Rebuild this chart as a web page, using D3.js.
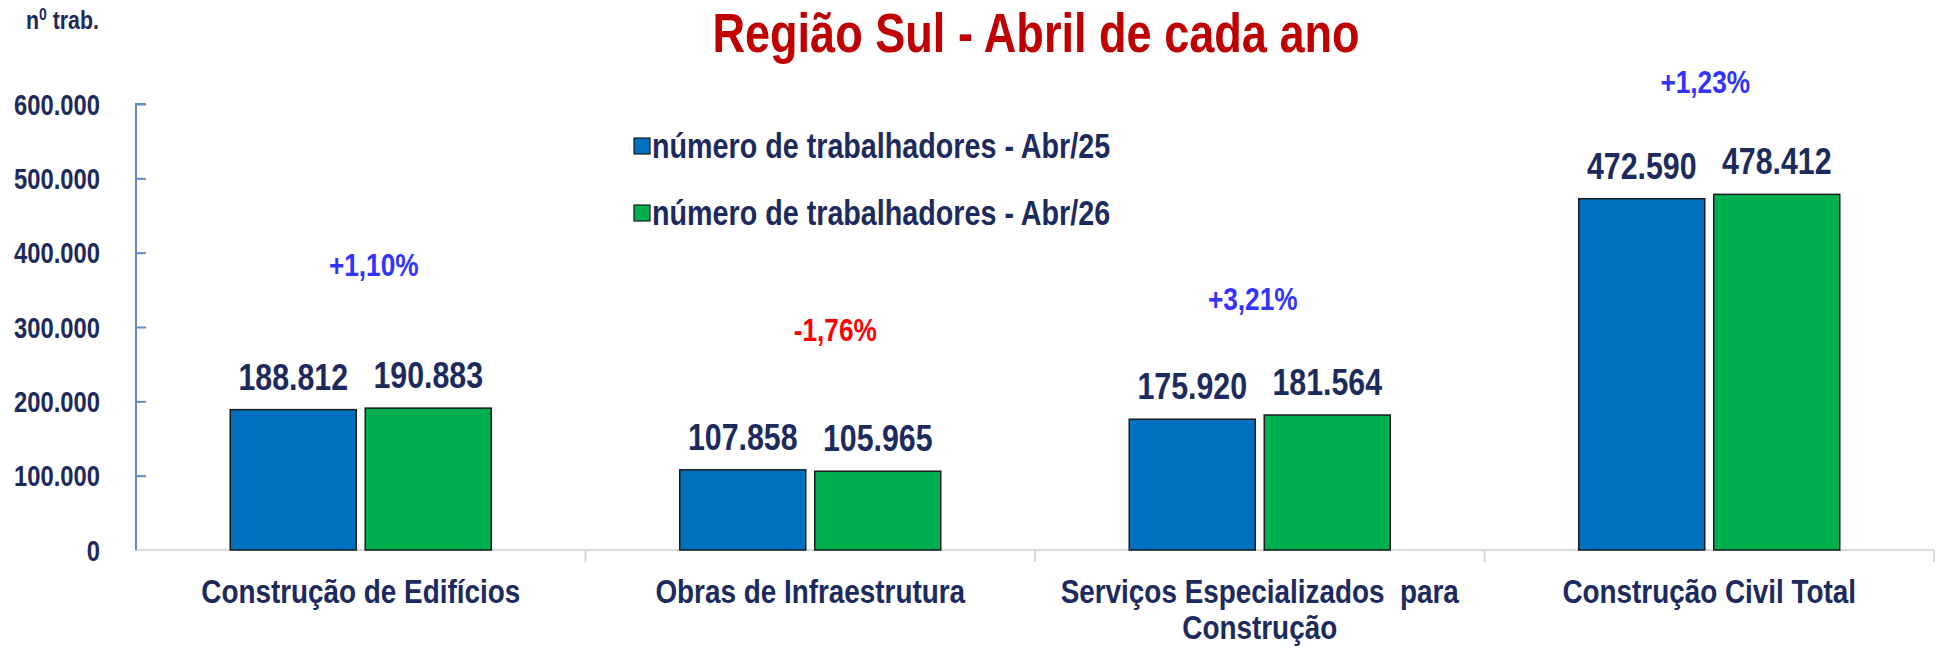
<!DOCTYPE html>
<html>
<head>
<meta charset="utf-8">
<script src="https://cdn.jsdelivr.net/npm/d3@7"></script>
<style>
  html, body { margin: 0; padding: 0; background: #ffffff; }
  svg { display: block; }
</style>
</head>
<body>
<svg id="chart" width="1936" height="648"></svg>
<script>
// ---------- DATA ----------
const categories = [
  ["Construção de Edifícios"],
  ["Obras de Infraestrutura"],
  ["Serviços Especializados  para", "Construção"],
  ["Construção Civil Total"]
];
const seriesNames = ["número de trabalhadores - Abr/25", "número de trabalhadores - Abr/26"];
const values2025 = [188812, 107858, 175920, 472590];
const values2026 = [190883, 105965, 181564, 478412];
const valueLabels2025 = ["188.812", "107.858", "175.920", "472.590"];
const valueLabels2026 = ["190.883", "105.965", "181.564", "478.412"];
const pctLabels = ["+1,10%", "-1,76%", "+3,21%", "+1,23%"];
const yTicks = [0, 100000, 200000, 300000, 400000, 500000, 600000];
const yTickLabels = ["0", "100.000", "200.000", "300.000", "400.000", "500.000", "600.000"];
const titleText = "Região Sul - Abril de cada ano";
const yUnitText = "trab.";

// ---------- STYLE / LAYOUT ----------
const W = 1936, H = 648;
const colors = ["#0070c0", "#00b050"];
const navy = "#1c2a5e";
const svg = d3.select("#chart");

// font detection: prefer a narrow bold font; else compress regular bold
function measure(family) {
  const t = svg.append("text").attr("font-family", family).attr("font-size", 40)
    .attr("font-weight", "bold").text("Construção 600.000");
  const w = t.node().getComputedTextLength();
  t.remove();
  return w;
}
const wNarrow = measure("'Liberation Sans Narrow', monospace");
const wMono = measure("monospace");
const hasNarrow = Math.abs(wNarrow - wMono) > 0.5;
const FONT = hasNarrow ? "'Liberation Sans Narrow', 'Arial Narrow', sans-serif" : "'Liberation Sans', Arial, sans-serif";
const SX = hasNarrow ? 1 : 0.82;

// helper to place text with horizontal compression when needed
function addText(parent, x, y, str, size, color, anchor) {
  const g = parent.append("g").attr("transform", `translate(${x},${y}) scale(${SX},1)`);
  const t = g.append("text")
    .attr("font-family", FONT).attr("font-weight", "bold")
    .attr("font-size", size).attr("fill", color)
    .attr("text-anchor", anchor || "start")
    .text(str);
  return t;
}

// scales
const plotLeft = 136, plotRight = 1934, plotBottom = 550, plotTop = 104;
const y = d3.scaleLinear().domain([0, 600000]).range([plotBottom, plotTop]);
const x0 = d3.scaleBand().domain(d3.range(categories.length)).range([plotLeft, plotRight]).paddingInner(0).paddingOuter(0);
const x1 = d3.scaleBand().domain([0, 1]).range([0, x0.bandwidth()]).paddingInner(0.0667).paddingOuter(0.698);

const seriesValues = [values2025, values2026];
const seriesLabels = [valueLabels2025, valueLabels2026];

// x axis baseline with category dividers (light gray)
const xAxisG = svg.append("g").attr("transform", `translate(0,${plotBottom})`);
xAxisG.append("line").attr("x1", plotLeft).attr("x2", plotRight).attr("y1", 0).attr("y2", 0)
  .attr("stroke", "#d9d9d9").attr("stroke-width", 2);
const dividers = d3.range(categories.length + 1).map(i => i < categories.length ? x0(i) : x0(i - 1) + x0.bandwidth());
xAxisG.selectAll("line.div").data(dividers.slice(1)).enter().append("line")
  .attr("class", "div").attr("x1", d => d).attr("x2", d => d).attr("y1", 0).attr("y2", 12)
  .attr("stroke", "#d9d9d9").attr("stroke-width", 2);

// bars
const barsG = svg.append("g");
[0, 1].forEach(s => {
  barsG.selectAll(null).data(seriesValues[s]).enter().append("rect")
    .attr("x", (d, i) => x0(i) + x1(s))
    .attr("y", d => y(d))
    .attr("width", x1.bandwidth())
    .attr("height", d => y(0) - y(d))
    .attr("fill", colors[s])
    .attr("stroke", "#1a1a1a").attr("stroke-width", 1.5);
});

// y axis (ticks pointing right into plot)
const yAxis = d3.axisRight(y).tickValues(yTicks).tickSize(10).tickFormat("");
const yAxisG = svg.append("g").attr("transform", `translate(${plotLeft},0)`).call(yAxis);
yAxisG.select(".domain").attr("stroke", "#5b8bc9").attr("stroke-width", 2).attr("d", `M10,${plotTop}H0V${plotBottom}`);
yAxisG.selectAll(".tick line").attr("stroke", "#5b8bc9").attr("stroke-width", 2);
yAxisG.selectAll(".tick").filter(d => d === 0).select("line").remove();

// y tick labels
yTicks.forEach((v, i) => {
  addText(svg, 100, y(v) + 10.5, yTickLabels[i], 29, navy, "end");
});

// value labels above bars
[0, 1].forEach(s => {
  seriesValues[s].forEach((v, i) => {
    const cx = x0(i) + x1(s) + x1.bandwidth() / 2;
    addText(svg, cx, y(v) - 20, seriesLabels[s][i], 37, navy, "middle");
  });
});

// percentage annotations (manually placed in the original)
const pctLayout = [ {dx: 13, v: 368600}, {dx: 25, v: 281200}, {dx: -7, v: 322900}, {dx: -4, v: 614800} ];
pctLabels.forEach((p, i) => {
  const col = p.startsWith("-") ? "#ff0000" : "#3333ff";
  addText(svg, x0(i) + x0.bandwidth() / 2 + pctLayout[i].dx, y(pctLayout[i].v), p, 32, col, "middle");
});

// category labels
categories.forEach((lines, i) => {
  const cx = x0(i) + x0.bandwidth() / 2;
  lines.forEach((ln, k) => {
    addText(svg, cx, 603 + k * 36, ln, 34, navy, "middle").style("white-space", "pre");
  });
});

// legend
seriesNames.forEach((name, s) => {
  const ly = 138 + s * 67;
  svg.append("rect").attr("x", 634).attr("y", ly).attr("width", 16).attr("height", 16)
    .attr("fill", colors[s]).attr("stroke", "#1a1a1a").attr("stroke-width", 1.2);
  addText(svg, 652, ly + 20, name, 35, navy, "start");
});

// title
addText(svg, 1036, 52, titleText, 55, "#c00000", "middle");

// y unit label "n⁰ trab."
const unit = addText(svg, 26, 29, "", 26, navy, "start");
unit.append("tspan").text("n");
unit.append("tspan").attr("dy", -9).attr("font-size", 17).text("0");
unit.append("tspan").attr("dy", 9).text(" " + yUnitText);
</script>
</body>
</html>
